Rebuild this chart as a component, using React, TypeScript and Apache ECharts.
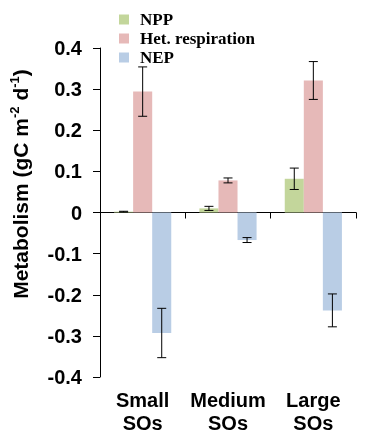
import React, { useEffect, useRef } from "react";
import * as echarts from "echarts";

const categories = ["Small\nSOs", "Medium\nSOs", "Large\nSOs"];
const seriesNames = ["NPP", "Het. respiration", "NEP"];
const nppValues = [0.002, 0.01, 0.082];
const nppErrors = [0.001, 0.005, 0.026];
const hetValues = [0.294, 0.078, 0.321];
const hetErrors = [0.06, 0.006, 0.046];
const nepValues = [-0.293, -0.067, -0.238];
const nepErrors = [0.06, 0.006, 0.04];
const colors = ["#c3d69b", "#e6b9b8", "#b9cde5"];
const yMin = -0.4;
const yMax = 0.4;
const yInterval = 0.1;

const BAR_CAT_GAP = 0.33;
const SANS = "'Liberation Sans', Arial, sans-serif";
const SERIF = "'Liberation Serif', 'Times New Roman', serif";

export default function App() {
  const ref = useRef<HTMLDivElement>(null);
  useEffect(() => {
    if (!ref.current) return;
    const chart = echarts.init(ref.current, undefined, { renderer: "svg" });
    const values = [nppValues, hetValues, nepValues];
    const errors = [nppErrors, hetErrors, nepErrors];
    const errData: number[][] = [];
    values.forEach((vals, s) => {
      vals.forEach((v, i) => {
        errData.push([i, v - errors[s][i], v + errors[s][i], s]);
      });
    });
    chart.setOption({
      animation: false,
      grid: { left: 100, right: 10, top: 48, bottom: 59, containLabel: false, outerBoundsMode: "none" },
      legend: {
        data: seriesNames,
        orient: "vertical",
        left: 114,
        top: 5,
        itemWidth: 10,
        itemHeight: 10,
        itemGap: 0,
        icon: "rect",
        textStyle: {
          fontFamily: SERIF,
          fontWeight: "bold",
          fontSize: 17,
          color: "#000",
          lineHeight: 19,
          padding: [0, 0, 0, 6],
        },
      },
      xAxis: [
        {
          type: "category",
          data: categories,
          position: "bottom",
          axisLine: { show: false, onZero: false },
          axisTick: { show: false },
          axisLabel: {
            interval: 0,
            hideOverlap: false,
            margin: 11,
            fontFamily: SANS,
            fontWeight: "bold",
            fontSize: 20,
            lineHeight: 23,
            color: "#000",
          },
        },
        {
          type: "category",
          data: categories,
          position: "top",
          axisLine: { show: true, onZero: true, lineStyle: { color: "#000", width: 1 } },
          axisTick: { show: true, inside: true, length: 6, lineStyle: { color: "#000" } },
          axisLabel: { show: false },
        },
      ],
      yAxis: {
        type: "value",
        min: yMin,
        max: yMax,
        interval: yInterval,
        splitLine: { show: false },
        axisLine: { show: true, lineStyle: { color: "#000", width: 1 } },
        axisTick: { show: true, length: 7, lineStyle: { color: "#000" } },
        axisLabel: {
          margin: 18,
          fontFamily: SANS,
          fontWeight: "bold",
          fontSize: 20,
          color: "#000",
          formatter: (v: number) => (Math.abs(v) < 1e-9 ? "0" : v.toFixed(1)),
        },
      },
      graphic: [
        {
          type: "text",
          x: 20,
          y: 184,
          rotation: Math.PI / 2,
          style: {
            text: "{a|Metabolism (gC m}{s|-2}{a| d}{s|-1}{a|)}",
            align: "center",
            verticalAlign: "middle",
            fill: "#000",
            rich: {
              a: { fontFamily: SANS, fontWeight: "bold", fontSize: 21, lineHeight: 25, fill: "#000" },
              s: { fontFamily: SANS, fontWeight: "bold", fontSize: 13, lineHeight: 13, verticalAlign: "top", fill: "#000" },
            },
          },
        },
      ],
      series: [
        ...values.map((vals, s) => ({
          name: seriesNames[s],
          type: "bar",
          xAxisIndex: 0,
          data: vals,
          barGap: "0%",
          barCategoryGap: BAR_CAT_GAP * 100 + "%",
          itemStyle: { color: colors[s] },
        })),
        {
          type: "custom",
          name: "errors",
          xAxisIndex: 0,
          data: errData,
          encode: { x: 0, y: [1, 2] },
          z: 10,
          renderItem: (params: any, api: any) => {
            const cat = api.value(0);
            const low = api.value(1);
            const high = api.value(2);
            const s = api.value(3);
            const band = api.size([1, 0])[0];
            const bw = (band * (1 - BAR_CAT_GAP)) / 3;
            const cx = api.coord([cat, 0])[0] + (s - 1) * bw;
            const yTop = api.coord([cat, high])[1];
            const yBot = api.coord([cat, low])[1];
            const half = 4.5;
            const style = { stroke: "#000", lineWidth: 1 };
            return {
              type: "group",
              children: [
                { type: "line", shape: { x1: cx, y1: yTop, x2: cx, y2: yBot }, style },
                { type: "line", shape: { x1: cx - half, y1: yTop, x2: cx + half, y2: yTop }, style },
                { type: "line", shape: { x1: cx - half, y1: yBot, x2: cx + half, y2: yBot }, style },
              ],
            };
          },
        },
      ],
    });
    return () => chart.dispose();
  }, []);
  return <div ref={ref} style={{ position: "fixed", left: 0, top: 0, width: 366, height: 436 }} />;
}
